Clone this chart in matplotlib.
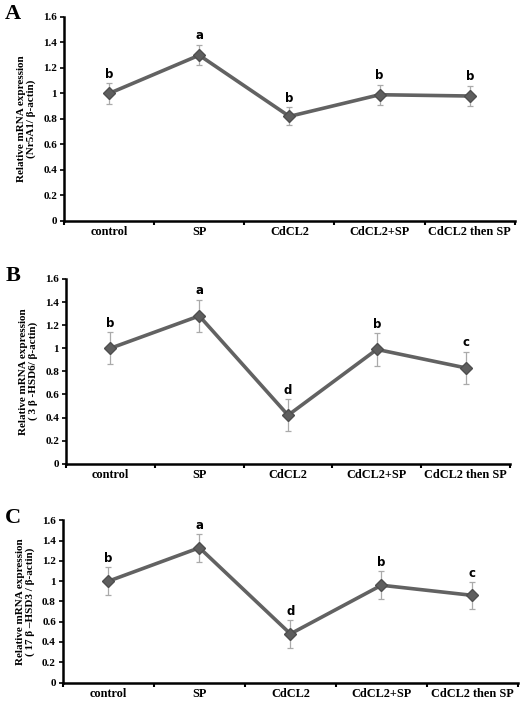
import matplotlib
matplotlib.use('Agg')
from matplotlib import pyplot as plt

# data
groups = ['control', 'SP', 'CdCL2', 'CdCL2+SP', 'CdCL2 then SP']

nr5a1 = [1.00, 1.30, 0.82, 0.99, 0.98]
nr5a1Err = [0.08, 0.08, 0.07, 0.08, 0.08]
nr5a1Sig = ['b', 'a', 'b', 'b', 'b']

hsd3b = [1.00, 1.28, 0.42, 0.99, 0.83]
hsd3bErr = [0.14, 0.14, 0.14, 0.14, 0.14]
hsd3bSig = ['b', 'a', 'd', 'b', 'c']

hsd17b = [1.00, 1.33, 0.48, 0.96, 0.86]
hsd17bErr = [0.14, 0.14, 0.14, 0.14, 0.13]
hsd17bSig = ['b', 'a', 'd', 'b', 'c']

yticks = [0, 0.2, 0.4, 0.6, 0.8, 1, 1.2, 1.4, 1.6]
yticklabels = ['0', '0.2', '0.4', '0.6', '0.8', '1', '1.2', '1.4', '1.6']

serif = 'Liberation Serif'
lineColor = '#626262'

fig = plt.figure(figsize=(5.2, 7.08), dpi=100)

panels = [
    ('A', [0.123, 0.688, 0.867, 0.288], nr5a1, nr5a1Err, nr5a1Sig, '(Nr5A1/ β-actin)'),
    ('B', [0.127, 0.345, 0.854, 0.261], hsd3b, hsd3bErr, hsd3bSig, '( 3 β -HSD6/ β-actin)'),
    ('C', [0.121, 0.036, 0.875, 0.229], hsd17b, hsd17bErr, hsd17bSig, '( 17 β –HSD3 / β-actin)'),
]

for letter, pos, vals, errs, sig, sub in panels:
    ax = fig.add_axes(pos)
    x = list(range(len(groups)))
    ax.errorbar(x, vals, yerr=errs, fmt='none', ecolor='#aaaaaa', elinewidth=0.9,
                capsize=2, capthick=0.9, zorder=2)
    ax.plot(x, vals, color=lineColor, lw=2.6, marker='D', markersize=6,
            markerfacecolor='#5e5e5e', markeredgecolor='#4e4e4e', zorder=3)
    for xi, v, e, s in zip(x, vals, errs, sig):
        ax.text(xi, v + e + 0.02, s, ha='center', va='bottom', fontsize=8.5,
                fontweight='bold', family='DejaVu Sans')
    ax.set_xlim(-0.5, 4.5)
    ax.set_ylim(0, 1.6)
    ax.set_yticks(yticks)
    ax.set_yticklabels(yticklabels, fontsize=8, fontweight='bold', family=serif)
    ax.set_xticks([i + 0.5 for i in range(-1, 5)])
    ax.set_xticklabels([])
    ax.set_xticks(x, minor=True)
    ax.set_xticklabels(groups, minor=True, fontsize=8.8, fontweight='bold', family=serif)
    ax.tick_params(axis='x', which='minor', length=0, pad=4)
    ax.tick_params(axis='x', which='major', length=3, width=1.5, direction='out')
    ax.tick_params(axis='y', length=3, width=1.2, pad=2)
    for side in ['top', 'right']:
        ax.spines[side].set_visible(False)
    for side in ['left', 'bottom']:
        ax.spines[side].set_linewidth(1.8)
    ax.set_ylabel('Relative mRNA expression\n' + sub, fontsize=8, fontweight='bold',
                  family=serif, labelpad=5, linespacing=1.1)
    fig.text(0.01, pos[1] + pos[3] + 0.004, letter, fontsize=16, fontweight='bold',
             family=serif, va='center')

plt.savefig('out.png', dpi=100)
